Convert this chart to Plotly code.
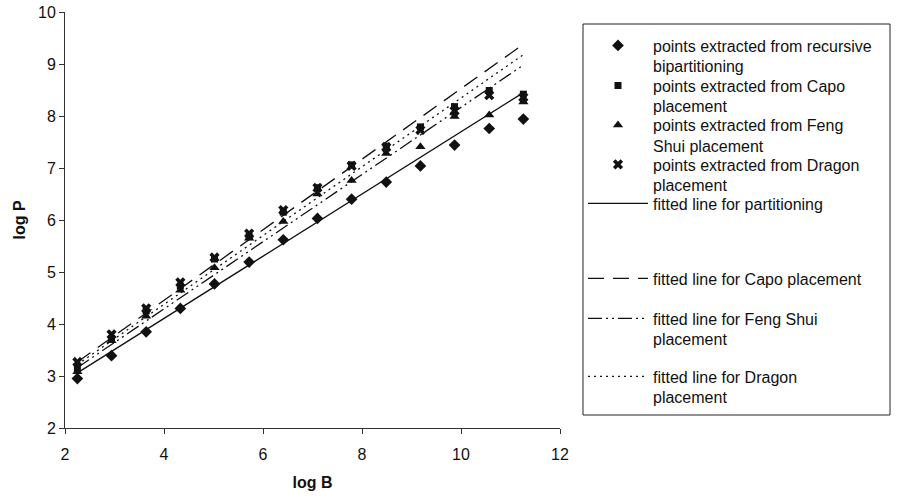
import plotly.graph_objects as go

# log B positions shared by every series
log_b = [2.25, 2.94, 3.64, 4.33, 5.02, 5.72, 6.41, 7.10, 7.79, 8.49, 9.18, 9.87, 10.57, 11.26]

# log P values per placement / partitioning method
bipartitioning = [2.95, 3.39, 3.85, 4.30, 4.77, 5.19, 5.62, 6.03, 6.40, 6.73, 7.04, 7.44, 7.76, 7.94]
capo = [3.15, 3.72, 4.25, 4.73, 5.25, 5.68, 6.15, 6.62, 7.06, 7.42, 7.79, 8.18, 8.49, 8.42]
feng_shui = [3.08, 3.68, 4.15, 4.65, 5.08, 5.65, 5.97, 6.50, 6.76, 7.28, 7.41, 7.99, 8.02, 8.27]
dragon = [3.27, 3.80, 4.30, 4.80, 5.28, 5.74, 6.19, 6.62, 7.04, 7.40, 7.73, 8.10, 8.40, 8.36]

# fitted lines: end points over the log B span
fit_x = [2.25, 11.26]
fit_partitioning = [3.06, 8.45]
fit_capo = [3.27, 9.38]
fit_fengshui = [3.16, 8.98]
fit_dragon = [3.22, 9.18]

x_ticks = [2, 4, 6, 8, 10, 12]
y_ticks = [2, 3, 4, 5, 6, 7, 8, 9, 10]

FONT = "Liberation Sans, Arial, Helvetica, sans-serif"
INK = "#111111"

fig = go.Figure()

point_series = [
    ("points extracted from recursive<br>bipartitioning", bipartitioning, "diamond", 9),
    ("points extracted from Capo<br>placement", capo, "square", 7),
    ("points extracted from Feng<br>Shui placement", feng_shui, "triangle-up", 9),
    ("points extracted from Dragon<br>placement", dragon, "x", 9),
]
line_series = [
    ("fitted line for partitioning", fit_partitioning, "solid"),
    ("fitted line for Capo placement", fit_capo, "16px,9px"),
    ("fitted line for Feng Shui<br>placement", fit_fengshui, "14px,4px,2px,4px,2px,4px"),
    ("fitted line for Dragon<br>placement", fit_dragon, "2px,4px"),
]

legend_ids = ["legend", "legend2", "legend3", "legend4",
              "legend5", "legend6", "legend7", "legend8"]
# screen row (px from top) of each legend entry's first text line
legend_rows = [46, 86, 125.5, 165, 204, 279, 319, 377]

# lines first so the markers sit on top
for i, (name, ys, dash) in enumerate(line_series):
    fig.add_trace(go.Scatter(
        x=fit_x, y=ys, mode="lines", name=name,
        line=dict(color=INK, width=1.3, dash=dash),
        legend=legend_ids[4 + i],
    ))

for i, (name, ys, sym, size) in enumerate(point_series):
    fig.add_trace(go.Scatter(
        x=log_b, y=ys, mode="markers", name=name,
        marker=dict(symbol=sym, size=size, color=INK, line=dict(width=0)),
        legend=legend_ids[i],
    ))

W, H = 898, 498
ML, MR, MT, MB = 65, 338, 12, 70
pw, ph = W - ML - MR, H - MT - MB


def px_to_paper_x(px):
    return (px - ML) / pw


def px_to_paper_y(py):
    return (H - MB - py) / ph


legend_left = 583
legend_layout = {}
for lid, row in zip(legend_ids, legend_rows):
    legend_layout[lid] = dict(
        xref="container", yref="container",
        x=legend_left / W, y=1 - (row - 17.5) / H,
        xanchor="left", yanchor="top",
        bgcolor="rgba(0,0,0,0)", borderwidth=0,
        font=dict(family=FONT, size=16, color=INK),
        valign="top", itemwidth=60,
        itemclick=False, itemdoubleclick=False,
    )

fig.update_layout(
    width=W, height=H,
    margin=dict(l=ML, r=MR, t=MT, b=MB, pad=0, autoexpand=False),
    paper_bgcolor="white", plot_bgcolor="white",
    font=dict(family=FONT, size=16, color=INK),
    showlegend=True,
    **legend_layout,
    xaxis=dict(
        range=[2, 12], tickvals=x_ticks, ticktext=[str(v) for v in x_ticks],
        showgrid=False, zeroline=False, automargin=False,
        showline=True, linecolor="#333333", linewidth=1,
        ticks="outside", ticklen=5, tickcolor="#333333",
        ticklabelstandoff=7,
        tickfont=dict(family=FONT, size=16, color=INK),
        title=dict(text="<b>log B</b>", font=dict(family=FONT, size=16, color=INK), standoff=14),
    ),
    yaxis=dict(
        range=[2, 10], tickvals=y_ticks, ticktext=[str(v) for v in y_ticks],
        showgrid=False, zeroline=False, automargin=False,
        showline=True, linecolor="#333333", linewidth=1,
        ticks="outside", ticklen=5, tickcolor="#333333",
        tickfont=dict(family=FONT, size=16, color=INK),
        title=dict(text="<b>log P</b>", font=dict(family=FONT, size=16, color=INK), standoff=8),
    ),
    shapes=[dict(
        type="rect", xref="paper", yref="paper",
        x0=px_to_paper_x(583), x1=px_to_paper_x(890),
        y0=px_to_paper_y(415), y1=px_to_paper_y(24),
        line=dict(color="#222222", width=1), fillcolor="rgba(0,0,0,0)",
    )],
)

fig.write_html("out.html")
